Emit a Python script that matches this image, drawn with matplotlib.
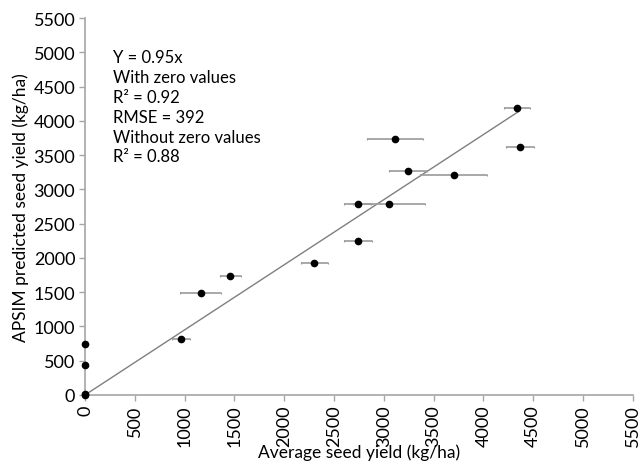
import matplotlib.pyplot as plt

plt.rcParams['font.family'] = ['Lato', 'DejaVu Sans']

# observed (average) vs predicted seed yield, kg/ha
observed = [0, 0, 0, 0, 960, 1160, 1460, 2300, 2740, 2740, 3050, 3110, 3240, 3700, 4340, 4370]
predicted = [0, 20, 440, 750, 820, 1490, 1735, 1930, 2250, 2780, 2790, 3730, 3275, 3215, 4185, 3625]
obs_err = [0, 0, 0, 0, 90, 210, 105, 135, 140, 135, 360, 280, 190, 335, 130, 140]

fit_x = [0, 4350]
slope = 0.95

axis_grey = '#a6a6a6'

fig = plt.figure(figsize=(6.43, 4.64), dpi=100)
ax = fig.add_axes([0.1322, 0.1466, 0.852, 0.8124])

ax.plot(fit_x, [slope * v for v in fit_x], color='#7f7f7f', lw=1.0, zorder=1)
ax.errorbar(observed, predicted, xerr=obs_err, fmt='o', color='black', markersize=4.5,
            ecolor='#9a9a9a', elinewidth=1.2, capsize=1.0, capthick=0.8,
            clip_on=False, zorder=3)

ax.set_xlim(0, 5500)
ax.set_ylim(0, 5500)
ticks = list(range(0, 5501, 500))
ax.set_xticks(ticks)
ax.set_yticks(ticks)
ax.set_xticklabels([str(t) for t in ticks], rotation=90)
ax.tick_params(axis='both', labelsize=13, colors='black', length=4, width=1, pad=3)
ax.tick_params(axis='both', color=axis_grey)

for side in ['top', 'right']:
    ax.spines[side].set_visible(False)
for side in ['left', 'bottom']:
    ax.spines[side].set_color(axis_grey)
    ax.spines[side].set_linewidth(1.2)

ax.set_xlabel('Average seed yield (kg/ha)', fontsize=12.5, labelpad=-2)
ax.set_ylabel('APSIM predicted seed yield (kg/ha)', fontsize=12.5, labelpad=3)

lines = ['Y = 0.95x', 'With zero values', 'R² = 0.92', 'RMSE = 392',
         'Without zero values', 'R² = 0.88']
ax.text(0.051, 0.918, '\n'.join(lines), transform=ax.transAxes, fontsize=12,
        va='top', ha='left', linespacing=1.3)

plt.savefig('out.png', dpi=100)
plt.close()
